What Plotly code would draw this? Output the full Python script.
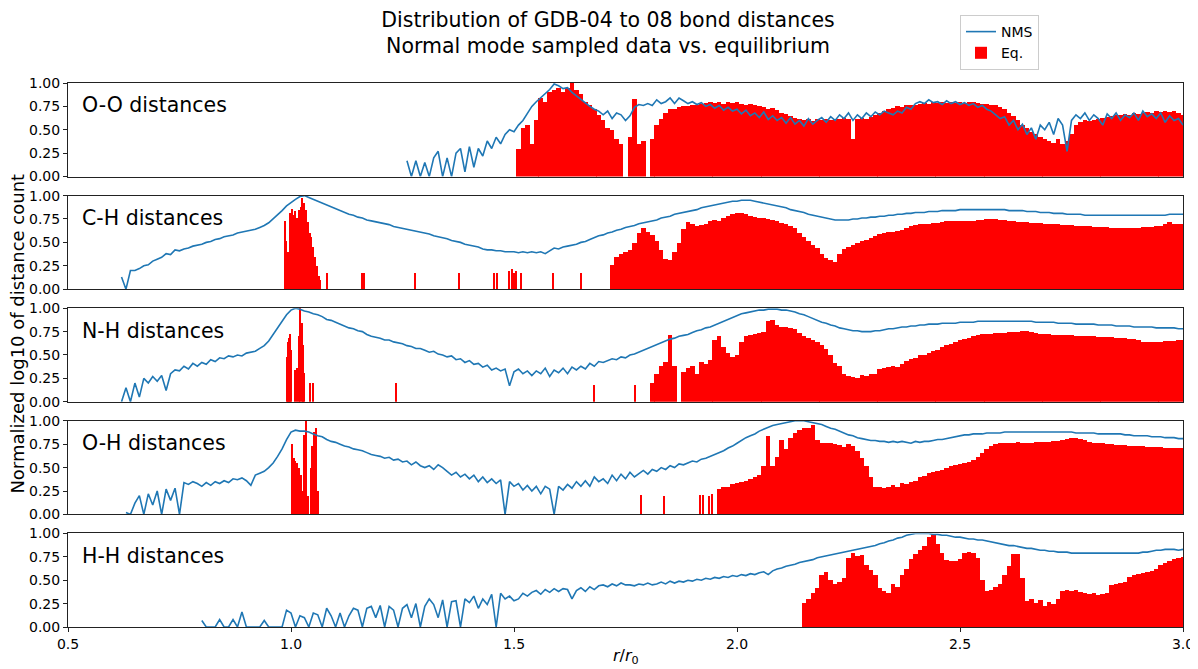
import numpy as np
import plotly.graph_objects as go
from plotly.subplots import make_subplots

STEP = 0.01
X_TICKS = [0.5, 1.0, 1.5, 2.0, 2.5, 3.0]
Y_TICKS = [0.0, 0.25, 0.5, 0.75, 1.0]
PANEL_LABELS = ["O-O distances", "C-H distances", "N-H distances", "O-H distances", "H-H distances"]

# ---------------- O-O ----------------
OO_NMS_START = 1.26
OO_NMS = [
    0.17, 0, 0.17, 0, 0.15, 0, 0.2, 0.27, 0, 0.2,
    0, 0.25, 0.3, 0.05, 0.32, 0.1, 0.3, 0.22, 0.38, 0.3,
    0.42, 0.35, 0.45, 0.5, 0.48, 0.55, 0.6, 0.68, 0.75, 0.8,
    0.84, 0.88, 0.93, 0.99, 0.97, 0.94, 0.95, 0.9, 0.86, 0.82,
    0.79, 0.75, 0.72, 0.7, 0.66, 0.7, 0.62, 0.68, 0.66, 0.6,
    0.65, 0.74, 0.77, 0.76, 0.78, 0.76, 0.82, 0.78, 0.8, 0.84,
    0.78, 0.84, 0.81, 0.78, 0.8, 0.77, 0.79, 0.75, 0.77, 0.73,
    0.76, 0.71, 0.74, 0.7, 0.72, 0.67, 0.71, 0.65, 0.68, 0.63,
    0.69, 0.61, 0.65, 0.6, 0.63, 0.57, 0.63, 0.56, 0.6, 0.54,
    0.62, 0.56, 0.6, 0.63, 0.58, 0.64, 0.6, 0.66, 0.62, 0.68,
    0.6, 0.66, 0.62, 0.68, 0.64, 0.69, 0.66, 0.7, 0.68, 0.66,
    0.7, 0.68, 0.74, 0.72, 0.78, 0.8, 0.78, 0.82, 0.79, 0.8,
    0.77, 0.81, 0.78, 0.8, 0.77, 0.79, 0.76, 0.78, 0.74, 0.76,
    0.72, 0.7, 0.66, 0.62, 0.64, 0.55, 0.6, 0.5, 0.56, 0.45,
    0.52, 0.4, 0.55, 0.5, 0.58, 0.45, 0.62, 0.55, 0.27, 0.6,
    0.66, 0.62, 0.68, 0.6, 0.66, 0.62, 0.55, 0.67, 0.62, 0.68,
    0.6, 0.66, 0.63, 0.68, 0.6, 0.7, 0.64, 0.67, 0.62, 0.68,
    0.58, 0.65, 0.6, 0.62, 0.55,
]
OO_EQ_START = 1.51
OO_EQ = [
    0.3, 0.52, 0.55, 0.35, 0.6, 0.84, 0.8, 0.9, 0.92, 0.95,
    0.9, 0.95, 1.0, 0.92, 0.88, 0.8, 0.77, 0.72, 0.66, 0.6,
    0.52, 0.5, 0.4, 0.35, 0, 0.42, 0.83, 0.35, 0.38, 0,
    0.4, 0.55, 0.62, 0.68, 0.72, 0.72, 0.74, 0.75, 0.75, 0.76,
    0.77, 0.78, 0.79, 0.8, 0.79, 0.8, 0.78, 0.8, 0.79, 0.8,
    0.78, 0.77, 0.78, 0.76, 0.75, 0.74, 0.72, 0.73, 0.71, 0.68,
    0.67, 0.65, 0.63, 0.62, 0.6, 0.61, 0.59, 0.61, 0.6, 0.62,
    0.6, 0.62, 0.61, 0.63, 0.62, 0.4, 0.62, 0.63, 0.62, 0.64,
    0.66, 0.68, 0.7, 0.72, 0.73, 0.75, 0.74, 0.76, 0.77, 0.77,
    0.78, 0.79, 0.78, 0.8, 0.79, 0.8, 0.79, 0.8, 0.79, 0.8,
    0.79, 0.8, 0.8, 0.79, 0.78, 0.78, 0.77, 0.76, 0.74, 0.72,
    0.68, 0.65, 0.6, 0.55, 0.52, 0.48, 0.45, 0.42, 0.4, 0.38,
    0.36, 0.4, 0.35, 0.38, 0.45, 0.55, 0.58, 0.6, 0.59, 0.6,
    0.62, 0.63, 0.64, 0.65, 0.66, 0.66, 0.67, 0.66, 0.68, 0.67,
    0.68, 0.69, 0.68, 0.7, 0.69, 0.7, 0.69, 0.7, 0.68, 0.66,
]
OO_FINE_X = []
OO_FINE_Y = []

# ---------------- C-H ----------------
CH_NMS_START = 0.62
CH_NMS = [
    0.13, 0, 0.2, 0.2, 0.22, 0.25, 0.26, 0.3, 0.32, 0.34,
    0.38, 0.37, 0.42, 0.41, 0.43, 0.44, 0.46, 0.47, 0.48, 0.5,
    0.51, 0.53, 0.54, 0.56, 0.57, 0.58, 0.6, 0.61, 0.62, 0.63,
    0.64, 0.66, 0.68, 0.71, 0.75, 0.79, 0.84, 0.89, 0.93, 0.96,
    0.99, 1.0, 0.98, 0.96, 0.94, 0.92, 0.9, 0.88, 0.86, 0.84,
    0.82, 0.8, 0.79, 0.77, 0.76, 0.74, 0.73, 0.72, 0.71, 0.7,
    0.69, 0.67, 0.66, 0.65, 0.64, 0.63, 0.62, 0.61, 0.6, 0.59,
    0.57, 0.56, 0.55, 0.54, 0.52, 0.51, 0.5, 0.48, 0.47, 0.46,
    0.45, 0.43, 0.42, 0.42, 0.41, 0.41, 0.4, 0.4, 0.4, 0.39,
    0.4, 0.39, 0.4, 0.39, 0.4, 0.38, 0.41, 0.44, 0.43, 0.45,
    0.46, 0.47, 0.48, 0.5, 0.51, 0.53, 0.55, 0.57, 0.58, 0.6,
    0.61, 0.63, 0.64, 0.66, 0.67, 0.68, 0.7, 0.71, 0.72, 0.73,
    0.74, 0.76, 0.77, 0.78, 0.8, 0.81, 0.82, 0.83, 0.84, 0.85,
    0.87, 0.88, 0.89, 0.9, 0.91, 0.92, 0.93, 0.94, 0.94, 0.95,
    0.95, 0.95, 0.94, 0.93, 0.92, 0.91, 0.9, 0.89, 0.88, 0.87,
    0.85, 0.84, 0.83, 0.82, 0.8, 0.79, 0.78, 0.77, 0.76, 0.75,
    0.74, 0.74, 0.74, 0.74, 0.75, 0.75, 0.76, 0.76, 0.77, 0.77,
    0.78, 0.78, 0.79, 0.79, 0.8, 0.8, 0.81, 0.81, 0.82, 0.82,
    0.82, 0.83, 0.83, 0.83, 0.84, 0.84, 0.84, 0.84, 0.85, 0.85,
    0.85, 0.85, 0.85, 0.85, 0.85, 0.85, 0.85, 0.85, 0.85, 0.84,
    0.84, 0.84, 0.84, 0.83, 0.83, 0.83, 0.82, 0.82, 0.82, 0.81,
    0.81, 0.81, 0.8, 0.8, 0.8, 0.8, 0.79, 0.79, 0.79, 0.79,
    0.79, 0.79, 0.79, 0.79, 0.79, 0.79, 0.79, 0.79, 0.79, 0.79,
    0.79, 0.79, 0.79, 0.79, 0.79, 0.8, 0.8, 0.8, 0.8,
]
CH_EQ_START = 1.72
CH_EQ = [
    0.26, 0.35, 0.38, 0.4, 0.42, 0.5, 0.6, 0.66, 0.62, 0.58,
    0.52, 0.42, 0.33, 0.32, 0.4, 0.5, 0.65, 0.72, 0.7, 0.68,
    0.69, 0.7, 0.73, 0.74, 0.73, 0.76, 0.79, 0.81, 0.82, 0.82,
    0.81, 0.79, 0.78, 0.77, 0.76, 0.75, 0.74, 0.73, 0.71, 0.7,
    0.68, 0.66, 0.6, 0.56, 0.52, 0.48, 0.44, 0.38, 0.34, 0.32,
    0.3, 0.38, 0.43, 0.46, 0.48, 0.5, 0.52, 0.53, 0.55, 0.57,
    0.59, 0.6, 0.61, 0.62, 0.63, 0.64, 0.66, 0.68, 0.69, 0.7,
    0.7, 0.7, 0.71, 0.71, 0.72, 0.73, 0.73, 0.73, 0.73, 0.73,
    0.73, 0.73, 0.74, 0.74, 0.75, 0.75, 0.75, 0.74, 0.74, 0.73,
    0.73, 0.72, 0.72, 0.72, 0.71, 0.71, 0.71, 0.7, 0.7, 0.7,
    0.7, 0.69, 0.69, 0.69, 0.68, 0.68, 0.68, 0.68, 0.67, 0.67,
    0.67, 0.67, 0.66, 0.66, 0.66, 0.66, 0.66, 0.66, 0.66, 0.67,
    0.67, 0.67, 0.68, 0.68, 0.7, 0.72, 0.7, 0.7, 0.7,
]
CH_FINE_X = [0.986, 0.990, 0.994, 0.998, 1.002, 1.006, 1.010, 1.014, 1.018, 1.022,
             1.026, 1.030, 1.034, 1.038, 1.042, 1.046, 1.050, 1.054, 1.058, 1.062,
             1.066, 1.081, 1.160, 1.163, 1.278, 1.377, 1.455, 1.462, 1.490, 1.495,
             1.500, 1.505, 1.516, 1.587, 1.650]
CH_FINE_Y = [0.73, 0.52, 0.4, 0.82, 0.86, 0.8, 0.84, 0.76, 0.85, 0.88,
             0.98, 0.92, 0.85, 0.72, 0.6, 0.56, 0.45, 0.35, 0.25, 0.15,
             0.1, 0.18, 0.18, 0.18, 0.18, 0.18, 0.18, 0.18, 0.2, 0.22,
             0.18, 0.2, 0.18, 0.18, 0.18]

# ---------------- N-H ----------------
NH_NMS_START = 0.62
NH_NMS = [
    0, 0.15, 0, 0.2, 0.05, 0.25, 0.2, 0.27, 0.22, 0.28,
    0.12, 0.3, 0.34, 0.33, 0.38, 0.35, 0.41, 0.38, 0.42, 0.4,
    0.45, 0.43, 0.47, 0.46, 0.49, 0.48, 0.5, 0.49, 0.52, 0.53,
    0.54, 0.57, 0.6, 0.65, 0.72, 0.79, 0.86, 0.93, 0.98, 1.0,
    0.99, 0.97, 0.96, 0.94, 0.93, 0.91, 0.88, 0.87, 0.85, 0.83,
    0.81, 0.79, 0.78, 0.76, 0.75, 0.72, 0.7, 0.69, 0.68, 0.66,
    0.66, 0.64, 0.63, 0.62, 0.6, 0.59, 0.57, 0.57, 0.55, 0.53,
    0.54, 0.51, 0.5, 0.48, 0.49, 0.45, 0.46, 0.42, 0.44, 0.4,
    0.41, 0.37, 0.39, 0.34, 0.36, 0.33, 0.35, 0.17, 0.32, 0.35,
    0.3, 0.33, 0.28, 0.33, 0.3, 0.36, 0.27, 0.34, 0.31, 0.36,
    0.3, 0.37, 0.34, 0.38, 0.35, 0.41, 0.38, 0.43, 0.42, 0.44,
    0.46, 0.45, 0.48, 0.47, 0.5, 0.51, 0.53, 0.55, 0.57, 0.59,
    0.61, 0.63, 0.65, 0.67, 0.68, 0.7, 0.71, 0.72, 0.74, 0.76,
    0.77, 0.79, 0.8, 0.82, 0.84, 0.86, 0.88, 0.9, 0.92, 0.94,
    0.95, 0.96, 0.97, 0.98, 0.98, 0.99, 0.99, 0.99, 0.98, 0.98,
    0.97, 0.96, 0.94, 0.93, 0.91, 0.89, 0.87, 0.85, 0.84, 0.82,
    0.81, 0.79, 0.78, 0.77, 0.76, 0.76, 0.75, 0.75, 0.75, 0.76,
    0.76, 0.77, 0.78, 0.78, 0.79, 0.8, 0.8, 0.81, 0.81, 0.82,
    0.82, 0.83, 0.83, 0.83, 0.84, 0.84, 0.84, 0.84, 0.85, 0.85,
    0.85, 0.85, 0.86, 0.86, 0.86, 0.86, 0.86, 0.86, 0.86, 0.86,
    0.86, 0.86, 0.86, 0.86, 0.86, 0.85, 0.85, 0.85, 0.85, 0.85,
    0.84, 0.84, 0.84, 0.84, 0.83, 0.83, 0.83, 0.83, 0.83, 0.82,
    0.82, 0.82, 0.82, 0.81, 0.81, 0.81, 0.81, 0.8, 0.8, 0.8,
    0.8, 0.8, 0.79, 0.79, 0.79, 0.79, 0.79, 0.78, 0.78,
]
NH_EQ_START = 1.80
NH_EQ = [
    0, 0.2, 0.3, 0.38, 0.42, 0.71, 0.38, 0, 0.32, 0.36,
    0.38, 0.3, 0.42, 0.4, 0.44, 0.66, 0.7, 0.58, 0.52, 0.48,
    0.5, 0.64, 0.7, 0.71, 0.72, 0.73, 0.74, 0.86, 0.87, 0.82,
    0.8, 0.8, 0.79, 0.78, 0.73, 0.7, 0.68, 0.66, 0.64, 0.6,
    0.56, 0.5, 0.41, 0.38, 0.3, 0.27, 0.26, 0.25, 0.28, 0.27,
    0.29, 0.3, 0.35, 0.36, 0.37, 0.38, 0.37, 0.4, 0.43, 0.45,
    0.47, 0.5, 0.5, 0.52, 0.54, 0.55, 0.58, 0.6, 0.62, 0.64,
    0.66, 0.67, 0.68, 0.7, 0.71, 0.72, 0.72, 0.72, 0.73, 0.73,
    0.73, 0.74, 0.74, 0.74, 0.75, 0.75, 0.74, 0.73, 0.72, 0.72,
    0.72, 0.71, 0.71, 0.71, 0.71, 0.71, 0.7, 0.7, 0.7, 0.7,
    0.7, 0.69, 0.69, 0.69, 0.69, 0.68, 0.68, 0.68, 0.67, 0.67,
    0.66, 0.64, 0.64, 0.64, 0.64, 0.64, 0.65, 0.65, 0.65, 0.66,
    0.66,
]
NH_FINE_X = [0.992, 0.994, 0.996, 0.998, 1.000, 1.010, 1.014, 1.018, 1.021, 1.024,
             1.027, 1.030, 1.043, 1.049, 1.236, 1.680, 1.772]
NH_FINE_Y = [0.48, 0.64, 0.68, 0.72, 0.55, 0.34, 0.36, 0.7, 1.0, 0.84,
             0.6, 0.31, 0.2, 0.2, 0.2, 0.18, 0.18]

# ---------------- O-H ----------------
OH_NMS_START = 0.63
OH_NMS = [
    0.02, 0, 0.12, 0.2, 0, 0.22, 0.1, 0.25, 0, 0.27,
    0.15, 0.28, 0, 0.34, 0.32, 0.35, 0.33, 0.3, 0.34, 0.31,
    0.35, 0.33, 0.36, 0.34, 0.38, 0.37, 0.39, 0.36, 0.31, 0.42,
    0.44, 0.46, 0.5, 0.55, 0.62, 0.7, 0.8, 0.88, 0.9, 0.89,
    0.89, 0.88, 0.86, 0.84, 0.83, 0.8, 0.78, 0.77, 0.75, 0.73,
    0.72, 0.7, 0.69, 0.68, 0.66, 0.64, 0.63, 0.62, 0.6, 0.61,
    0.58, 0.59, 0.56, 0.57, 0.53, 0.56, 0.52, 0.5, 0.52, 0.48,
    0.53, 0.5, 0.46, 0.42, 0.45, 0.4, 0.43, 0.38, 0.42, 0.35,
    0.4, 0.34, 0.38, 0.33, 0.37, 0, 0.35, 0.3, 0.33, 0.26,
    0.31, 0.25, 0.3, 0.22, 0.3, 0.27, 0, 0.3, 0.26, 0.32,
    0.28, 0.35, 0.3, 0.36, 0.3, 0.4, 0.35, 0.38, 0.33, 0.42,
    0.36, 0.43, 0.38, 0.45, 0.4, 0.44, 0.47, 0.43, 0.48, 0.46,
    0.5, 0.48, 0.52, 0.5, 0.54, 0.53, 0.55, 0.57, 0.56, 0.59,
    0.6, 0.62, 0.64, 0.66, 0.68, 0.71, 0.73, 0.76, 0.79, 0.82,
    0.84, 0.86, 0.89, 0.91, 0.93, 0.95, 0.96, 0.97, 0.98, 0.99,
    1.0, 1.0, 1.0, 0.99, 0.98, 0.97, 0.96, 0.94, 0.92, 0.91,
    0.89, 0.87, 0.85, 0.84, 0.82, 0.81, 0.8, 0.79, 0.79, 0.78,
    0.78, 0.77, 0.78, 0.77, 0.78, 0.77, 0.76, 0.78, 0.77, 0.78,
    0.78, 0.79, 0.8, 0.8, 0.81, 0.82, 0.83, 0.84, 0.85, 0.85,
    0.86, 0.86, 0.86, 0.87, 0.87, 0.87, 0.87, 0.88, 0.88, 0.88,
    0.88, 0.88, 0.88, 0.88, 0.88, 0.88, 0.88, 0.88, 0.88, 0.88,
    0.88, 0.88, 0.88, 0.87, 0.87, 0.87, 0.87, 0.87, 0.86, 0.86,
    0.86, 0.86, 0.86, 0.86, 0.85, 0.85, 0.84, 0.84, 0.84, 0.84,
    0.83, 0.83, 0.83, 0.82, 0.82, 0.82, 0.81, 0.81,
]
OH_EQ_START = 1.96
OH_EQ = [
    0.27, 0.3, 0.3, 0.33, 0.34, 0.35, 0.36, 0.38, 0.4, 0.42,
    0.52, 0.84, 0.52, 0.62, 0.8, 0.7, 0.82, 0.87, 0.9, 0.92,
    0.93, 0.96, 0.8, 0.77, 0.76, 0.77, 0.75, 0.74, 0.72, 0.75,
    0.73, 0.68, 0.6, 0.52, 0.4, 0.3, 0.3, 0.28, 0.3, 0.32,
    0.3, 0.34, 0.33, 0.35, 0.36, 0.4, 0.41, 0.44, 0.46, 0.47,
    0.48, 0.5, 0.52, 0.53, 0.54, 0.55, 0.56, 0.58, 0.62, 0.66,
    0.7, 0.73, 0.75, 0.76, 0.76, 0.77, 0.77, 0.78, 0.77, 0.77,
    0.77, 0.78, 0.78, 0.78, 0.78, 0.79, 0.79, 0.8, 0.81, 0.82,
    0.82, 0.81, 0.8, 0.78, 0.77, 0.76, 0.76, 0.75, 0.75, 0.74,
    0.74, 0.74, 0.73, 0.73, 0.73, 0.73, 0.72, 0.72, 0.72, 0.72,
    0.71, 0.71, 0.71, 0.71, 0.71,
]
OH_FINE_X = [1.002, 1.006, 1.010, 1.014, 1.018, 1.022, 1.026, 1.030, 1.034, 1.038,
             1.044, 1.048, 1.052, 1.056, 1.060, 1.785, 1.836, 1.917, 1.925, 1.937, 1.945]
OH_FINE_Y = [0.75, 0.6, 0.57, 0.55, 0.5, 0.42, 0.25, 0.85, 1.0, 0.2,
             0.5, 0.73, 0.88, 0.93, 0.25, 0.21, 0.2, 0.21, 0.21, 0.2, 0.22]

# ---------------- H-H ----------------
HH_NMS_START = 0.80
HH_NMS = [
    0.07, 0, 0, 0, 0.08, 0, 0, 0.08, 0, 0.16,
    0, 0, 0, 0, 0.07, 0, 0, 0, 0, 0.18,
    0.15, 0, 0.12, 0.1, 0, 0.15, 0.13, 0, 0.2, 0.12,
    0, 0.15, 0, 0.12, 0.2, 0.18, 0, 0.2, 0.22, 0.1,
    0.23, 0, 0.22, 0.18, 0, 0.2, 0.24, 0.1, 0.25, 0,
    0.22, 0.3, 0.24, 0.1, 0.29, 0, 0.27, 0.28, 0, 0.3,
    0.26, 0.33, 0.2, 0.3, 0.24, 0.35, 0, 0.36, 0.3, 0.33,
    0.28, 0.3, 0.36, 0.33, 0.37, 0.39, 0.35, 0.4, 0.37, 0.41,
    0.38, 0.41, 0.4, 0.3, 0.39, 0.42, 0.38, 0.43, 0.4, 0.44,
    0.45, 0.43, 0.46, 0.44, 0.47, 0.45, 0.45, 0.44, 0.46, 0.45,
    0.47, 0.45, 0.46, 0.48, 0.46, 0.49, 0.47, 0.49, 0.48, 0.5,
    0.49, 0.51, 0.5, 0.52, 0.51, 0.53, 0.52, 0.54, 0.53, 0.55,
    0.54, 0.56, 0.55, 0.57, 0.56, 0.58, 0.59, 0.56, 0.6, 0.62,
    0.63, 0.65, 0.66, 0.67, 0.69, 0.7, 0.71, 0.72, 0.74, 0.75,
    0.76, 0.77, 0.78, 0.79, 0.8, 0.81, 0.82, 0.83, 0.84, 0.85,
    0.86, 0.87, 0.89, 0.9, 0.92, 0.93, 0.95, 0.96, 0.98, 0.99,
    1.0, 1.0, 1.0, 1.0, 0.99, 0.99, 0.98, 0.98, 0.97, 0.96,
    0.96, 0.95, 0.94, 0.94, 0.93, 0.93, 0.92, 0.91, 0.9, 0.89,
    0.88, 0.87, 0.87, 0.86, 0.85, 0.84, 0.84, 0.83, 0.82, 0.82,
    0.81, 0.81, 0.8, 0.8, 0.8, 0.79, 0.79, 0.79, 0.79, 0.79,
    0.79, 0.79, 0.79, 0.79, 0.79, 0.79, 0.79, 0.79, 0.79, 0.79,
    0.79, 0.8, 0.8, 0.81, 0.82, 0.82, 0.83, 0.83, 0.83, 0.82,
    0.83,
]
HH_EQ_START = 2.15
HH_EQ = [
    0.25, 0.3, 0.36, 0.41, 0.55, 0.58, 0.5, 0.45, 0.48, 0.52,
    0.73, 0.79, 0.75, 0.77, 0.66, 0.6, 0.55, 0.41, 0.38, 0.36,
    0.46, 0.42, 0.55, 0.62, 0.72, 0.78, 0.82, 0.86, 0.96, 0.98,
    0.88, 0.79, 0.71, 0.7, 0.7, 0.72, 0.79, 0.8, 0.79, 0.73,
    0.5, 0.38, 0.39, 0.42, 0.45, 0.55, 0.65, 0.78, 0.78, 0.52,
    0.27, 0.3, 0.25, 0.28, 0.22, 0.26, 0.24, 0.3, 0.38, 0.39,
    0.38, 0.39, 0.37, 0.36, 0.35, 0.36, 0.34, 0.35, 0.36, 0.44,
    0.45, 0.47, 0.48, 0.53, 0.55, 0.56, 0.57, 0.58, 0.59, 0.62,
    0.66, 0.68, 0.7, 0.72, 0.73, 0.74,
]
HH_FINE_X = []
HH_FINE_Y = []

PANELS = [
    (OO_NMS_START, OO_NMS, OO_EQ_START, OO_EQ, OO_FINE_X, OO_FINE_Y),
    (CH_NMS_START, CH_NMS, CH_EQ_START, CH_EQ, CH_FINE_X, CH_FINE_Y),
    (NH_NMS_START, NH_NMS, NH_EQ_START, NH_EQ, NH_FINE_X, NH_FINE_Y),
    (OH_NMS_START, OH_NMS, OH_EQ_START, OH_EQ, OH_FINE_X, OH_FINE_Y),
    (HH_NMS_START, HH_NMS, HH_EQ_START, HH_EQ, HH_FINE_X, HH_FINE_Y),
]

BLUE = "#1f77b4"
RED = "#ff0000"
FONT = "DejaVu Sans"


def grid(start, vals):
    return np.round(start + STEP * np.arange(len(vals)), 3)


fig = make_subplots(rows=5, cols=1, shared_xaxes=True, vertical_spacing=0.035)

for i, (ns, nv, es, ev, fx, fy) in enumerate(PANELS):
    row = i + 1
    fig.add_trace(go.Bar(x=grid(es, ev), y=ev, width=STEP * 1.02,
                         marker=dict(color=RED, line=dict(width=0)),
                         name="Eq.", legendgroup="eq", showlegend=(i == 0),
                         legendrank=2), row=row, col=1)
    if fx:
        fig.add_trace(go.Bar(x=fx, y=fy, width=0.0028,
                             marker=dict(color=RED, line=dict(width=0)),
                             name="Eq.", legendgroup="eq", showlegend=False),
                      row=row, col=1)
    fig.add_trace(go.Scatter(x=grid(ns, nv), y=nv, mode="lines",
                             line=dict(color=BLUE, width=1.6),
                             name="NMS", legendgroup="nms", showlegend=(i == 0),
                             legendrank=1), row=row, col=1)
    fig.update_yaxes(range=[0, 1], tickvals=Y_TICKS,
                     ticktext=[f"{v:.2f}" for v in Y_TICKS],
                     showline=True, mirror=True, linecolor="#222", linewidth=1,
                     ticks="outside", ticklen=4, tickcolor="#222",
                     tickfont=dict(size=14, family=FONT, color="black"),
                     showgrid=False, zeroline=False, row=row, col=1)
    fig.update_xaxes(range=[0.5, 3.0], tickvals=X_TICKS,
                     ticktext=[f"{v:.1f}" for v in X_TICKS],
                     showline=True, mirror=True, linecolor="#222", linewidth=1,
                     ticks="outside" if row == 5 else "", ticklen=4, tickcolor="#222",
                     showticklabels=(row == 5), layer="above traces",
                     tickfont=dict(size=14, family=FONT, color="black"),
                     showgrid=False, zeroline=False, row=row, col=1)
    axn = "" if row == 1 else str(row)
    fig.add_annotation(text=PANEL_LABELS[i], xref=f"x{axn} domain", yref=f"y{axn} domain",
                       x=0.011, y=0.76, xanchor="left", yanchor="middle", showarrow=False,
                       font=dict(size=20.5, family=FONT, color="black"))

fig.add_annotation(text="Normalized log10 of distance count", xref="paper", yref="paper",
                   x=-0.045, y=0.539, textangle=-90, showarrow=False,
                   xanchor="center", yanchor="middle",
                   font=dict(size=18, family=FONT, color="black"))
fig.add_annotation(text="<i>r</i>/<i>r</i><sub>0</sub>", xref="paper", yref="paper",
                   x=0.5, y=-0.032, showarrow=False, xanchor="center", yanchor="top",
                   font=dict(size=16, family=FONT, color="black"))

# The page body adds an 8 px margin, so the figure is 8 px smaller than the window
fig.update_layout(
    width=1190, height=661,
    margin=dict(l=60, r=15, t=75, b=42, autoexpand=False),
    paper_bgcolor="white", plot_bgcolor="white",
    barmode="overlay", bargap=0,
    title=dict(text="Distribution of GDB-04 to 08 bond distances<br>Normal mode sampled data vs. equilibrium",
               x=0.5042, xanchor="center", xref="container",
               y=0.9717, yanchor="middle", yref="container",
               font=dict(size=20.5, family=FONT, color="black")),
    legend=dict(x=0.8, y=1.125, xanchor="left", yanchor="top",
                bordercolor="#cccccc", borderwidth=1, bgcolor="white",
                font=dict(size=14, family=FONT, color="black"),
                traceorder="normal", tracegroupgap=2),
    showlegend=True,
)

fig.write_html("out.html")
